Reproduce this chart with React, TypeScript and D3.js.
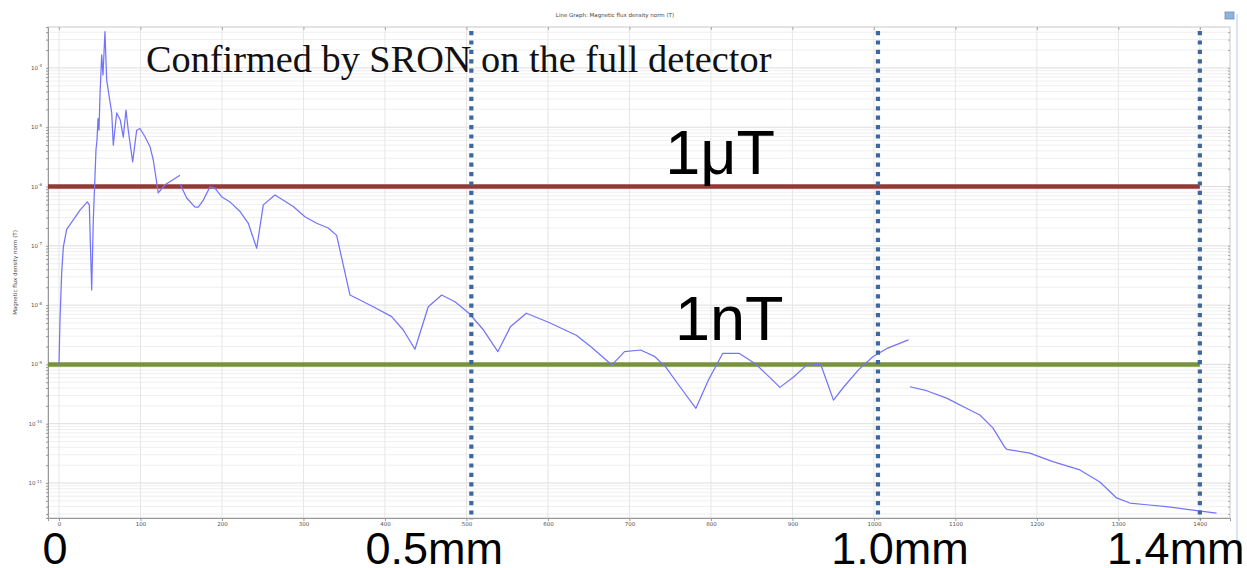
import { useEffect, useRef } from 'react'
import * as d3 from 'd3'

// field norm (T) along the detector (µm), three edges of the COMSOL line graph
const edgeNear: [number, number][] = [
  [0, 1.0e-9], [1.2, 5.6e-9], [3.3, 3.5e-8], [5.3, 9.5e-8], [9.4, 1.9e-7], [15.6, 2.5e-7],
  [25.8, 4.0e-7], [34.7, 5.5e-7], [37.2, 4.9e-7], [40.1, 1.8e-8], [42.1, 2.7e-7], [45.4, 4.2e-6],
  [46.6, 6.0e-6], [47.9, 1.4e-5], [49.1, 8.9e-6], [50.3, 3.5e-5], [52.4, 1.66e-4], [54.0, 7.6e-5],
  [56.4, 4.1e-4], [58.5, 6.3e-5], [61.7, 3.2e-5], [64.7, 1.74e-5], [66.6, 5.0e-6], [70.8, 1.74e-5],
  [75.2, 1.32e-5], [78.9, 6.8e-6], [82.2, 1.95e-5], [85.0, 8.9e-6], [90.4, 2.6e-6], [95.3, 8.9e-6],
  [99.4, 9.5e-6], [105.5, 6.9e-6], [111.7, 4.7e-6], [115.7, 2.8e-6], [121.8, 7.8e-7], [130.1, 1.07e-6],
  [148.5, 1.55e-6],
]

const edgeMiddle: [number, number][] = [
  [148.5, 1.1e-6], [156.7, 6.4e-7], [166.9, 4.5e-7], [170.9, 4.5e-7], [177.1, 5.9e-7], [185.3, 9.9e-7],
  [191.4, 9.4e-7], [199.6, 6.7e-7], [209.8, 5.5e-7], [222.1, 3.8e-7], [232.3, 2.4e-7], [242.6, 9.1e-8],
  [250.7, 4.9e-7], [265.0, 7.2e-7], [287.5, 4.6e-7], [301.8, 3.1e-7], [316.2, 2.4e-7], [330.4, 2.0e-7],
  [340.7, 1.5e-7], [357.1, 1.48e-8], [369.3, 1.22e-8], [385.6, 9.4e-9], [408.2, 6.4e-9], [422.5, 3.8e-9],
  [436.8, 1.8e-9], [453.1, 9.4e-9], [469.6, 1.48e-8], [485.9, 1.14e-8], [503.1, 7.3e-9], [521.0, 3.8e-9],
  [538.5, 1.64e-9], [553.9, 4.3e-9], [573.5, 7.3e-9], [599.9, 5.2e-9], [634.8, 3.1e-9], [652.4, 2.0e-9],
  [678.5, 9.8e-10], [694.0, 1.64e-9], [713.7, 1.75e-9], [731.3, 1.35e-9], [744.4, 9.1e-10], [762.0, 4.2e-10],
  [781.6, 1.82e-10], [797.1, 5.5e-10], [814.6, 1.54e-9], [834.4, 1.54e-9], [854.0, 1.04e-9], [869.3, 6.6e-10],
  [884.7, 4.1e-10], [901.8, 6.2e-10], [919.8, 1.04e-9], [935.0, 9.8e-10], [950.4, 2.5e-10], [963.2, 4.2e-10],
  [981.1, 8.1e-10], [998.7, 1.35e-9], [1016.0, 1.86e-9], [1042.5, 2.6e-9],
]

const edgeFar: [number, number][] = [
  [1044.2, 4.2e-10], [1064.7, 3.6e-10], [1089.2, 2.7e-10], [1117.8, 1.7e-10], [1130.1, 1.4e-10],
  [1146.0, 8.5e-11], [1160.7, 4.0e-11], [1163.2, 3.7e-11], [1191.4, 3.2e-11], [1219.6, 2.3e-11],
  [1252.8, 1.66e-11], [1277.3, 1.04e-11], [1297.8, 5.6e-12], [1314.1, 4.6e-12], [1334.6, 4.3e-12],
  [1359.1, 4.0e-12], [1391.4, 3.5e-12], [1420.5, 3.1e-12],
]

const xTicks = [0, 100, 200, 300, 400, 500, 600, 700, 800, 900, 1000, 1100, 1200, 1300, 1400]
const yDecades = [-11, -10, -9, -8, -7, -6, -5, -4]

const thresholdValues = [1e-6, 1e-9]
const thresholdLabels = ['1μT', '1nT']
const thresholdColors = ['#953735', '#77933c']

const markerPositions = [0, 506, 1005, 1400]
const markerLabels = ['0', '0.5mm', '1.0mm', '1.4mm']

export default function App() {
  const svgRef = useRef<SVGSVGElement>(null)
  const width = 1247
  const height = 568

  useEffect(() => {
    if (!svgRef.current) return
    const svg = d3.select(svgRef.current)
    svg.selectAll('*').remove()

    const left = 48, right = 1230, top = 27, bottom = 518
    const x = d3.scaleLinear().domain([-13.5, 1437]).range([left, right])
    const y = d3.scaleLog().domain([Math.pow(10, -11.59), Math.pow(10, -3.31)]).range([bottom, top])

    svg.append('rect').attr('width', width).attr('height', height).attr('fill', '#fff')

    const defs = svg.append('defs')
    defs.append('clipPath').attr('id', 'plot-clip')
      .append('rect').attr('x', left).attr('y', top).attr('width', right - left).attr('height', bottom - top)
    defs.append('filter').attr('id', 'soft').attr('x', '-5%').attr('y', '-200%').attr('width', '110%').attr('height', '500%')
      .append('feGaussianBlur').attr('stdDeviation', 1.6)

    // title
    svg.append('text')
      .attr('x', 615).attr('y', 17).attr('text-anchor', 'middle')
      .attr('font-family', 'DejaVu Sans').attr('font-size', '5.5px').attr('fill', '#444')
      .text('Line Graph: Magnetic flux density norm (T)')

    // grid
    const grid = svg.append('g')
    const minor: number[] = []
    for (let d = -12; d <= -3; d++) {
      for (let m = 1; m <= 9; m++) {
        const v = m * Math.pow(10, d)
        if (v >= y.domain()[0] && v <= y.domain()[1]) minor.push(v)
      }
    }
    grid.selectAll('line.h').data(minor).join('line')
      .attr('x1', left).attr('x2', right)
      .attr('y1', d => y(d)).attr('y2', d => y(d))
      .attr('stroke', d => (Math.abs(Math.log10(d) - Math.round(Math.log10(d))) < 1e-6 ? '#dddddd' : '#efefef'))
      .attr('stroke-width', 1)
    grid.selectAll('line.v').data(xTicks).join('line')
      .attr('x1', d => x(d)).attr('x2', d => x(d))
      .attr('y1', top).attr('y2', bottom)
      .attr('stroke', '#e6e6e6').attr('stroke-width', 1)

    // frame + axes
    svg.append('rect').attr('x', left).attr('y', top).attr('width', right - left).attr('height', bottom - top)
      .attr('fill', 'none').attr('stroke', '#c8c8c8')

    const axisColor = '#999'
    const xAxis = svg.append('g').attr('transform', `translate(0,${bottom})`)
      .call(d3.axisBottom(x).tickValues(xTicks).tickSize(3).tickFormat(d => `${d}`))
    xAxis.select('.domain').attr('stroke', axisColor)
    xAxis.selectAll('line').attr('stroke', axisColor)
    xAxis.selectAll('text').attr('fill', '#555').attr('font-size', '5.5px').attr('font-family', 'DejaVu Sans').attr('dy', '0.35em')

    const xTop = svg.append('g').attr('transform', `translate(0,${top})`)
      .call(d3.axisBottom(x).tickValues(xTicks).tickSize(3).tickFormat(() => ''))
    xTop.select('.domain').remove()
    xTop.selectAll('line').attr('stroke', '#aaa')

    const yAxis = svg.append('g').attr('transform', `translate(${left},0)`)
      .call(d3.axisLeft(y).tickValues(minor).tickSize(2).tickFormat(() => ''))
    yAxis.select('.domain').attr('stroke', axisColor)
    yAxis.selectAll('line').attr('stroke', axisColor)

    const yRight = svg.append('g').attr('transform', `translate(${right},0)`)
      .call(d3.axisLeft(y).tickValues(minor).tickSize(2).tickFormat(() => ''))
    yRight.select('.domain').remove()
    yRight.selectAll('line').attr('stroke', '#aaa')

    const yLab = svg.append('g')
    yDecades.forEach(k => {
      const t = yLab.append('text')
        .attr('x', 42).attr('y', y(Math.pow(10, k)) + 2)
        .attr('text-anchor', 'end').attr('font-family', 'DejaVu Sans').attr('font-size', '5.5px').attr('fill', '#555')
      t.append('tspan').text('10')
      t.append('tspan').attr('dy', -2.5).attr('font-size', '4px').text(`${k}`)
    })

    svg.append('text')
      .attr('transform', `translate(17,${(top + bottom) / 2}) rotate(-90)`)
      .attr('text-anchor', 'middle').attr('font-family', 'DejaVu Sans').attr('font-size', '5.5px').attr('fill', '#444')
      .text('Magnetic flux density norm (T)')

    // threshold lines with a soft shadow
    const xEnd = x(1400)
    thresholdValues.forEach((v, i) => {
      svg.append('line')
        .attr('x1', left).attr('x2', xEnd).attr('y1', y(v) + 3).attr('y2', y(v) + 3)
        .attr('stroke', '#888').attr('stroke-width', 4).attr('opacity', 0.45).attr('filter', 'url(#soft)')
      svg.append('line')
        .attr('x1', left).attr('x2', xEnd).attr('y1', y(v)).attr('y2', y(v))
        .attr('stroke', thresholdColors[i]).attr('stroke-width', 4.5)
    })

    // field curve
    const line = d3.line<[number, number]>().x(d => x(d[0])).y(d => y(d[1]))
    const curves = svg.append('g').attr('clip-path', 'url(#plot-clip)')
    ;[edgeNear, edgeMiddle, edgeFar].forEach(seg => {
      curves.append('path').datum(seg)
        .attr('fill', 'none').attr('stroke', '#7474fa').attr('stroke-width', 1.25)
        .attr('stroke-linejoin', 'round').attr('d', line)
    })

    // dotted position markers
    markerPositions.slice(1).forEach(p => {
      svg.append('line')
        .attr('x1', x(p)).attr('x2', x(p)).attr('y1', top + 4).attr('y2', bottom + 2)
        .attr('stroke', '#3d67a0').attr('stroke-width', 4.2).attr('stroke-dasharray', '4.2,5.2')
    })

    // annotations
    svg.append('text')
      .attr('x', 146).attr('y', 72)
      .attr('font-family', 'Liberation Serif, serif').attr('font-size', '38.3px').attr('fill', '#111')
      .text('Confirmed by SRON on the full detector')

    // label anchors along the detector and their lift above each line
    const labelAt = [744, 756]
    const labelLift = [13, 24]
    thresholdValues.forEach((v, i) => {
      svg.append('text')
        .attr('x', x(labelAt[i])).attr('y', y(v) - labelLift[i])
        .attr('font-family', 'Liberation Sans, Arial, sans-serif').attr('font-size', '63px').attr('fill', '#000')
        .text(thresholdLabels[i])
    })

    const markerShift = [-4, -37, 22, -24]
    markerPositions.forEach((p, i) => {
      svg.append('text')
        .attr('x', x(p) + markerShift[i]).attr('y', 564)
        .attr('text-anchor', 'middle')
        .attr('font-family', 'Liberation Sans, Arial, sans-serif').attr('font-size', '45px').attr('fill', '#000')
        .text(markerLabels[i])
    })

    // window edge
    svg.append('line').attr('x1', 1237).attr('x2', 1237).attr('y1', 14).attr('y2', 540)
      .attr('stroke', '#cfdcf2').attr('stroke-width', 1.5)
    svg.append('rect').attr('x', 1225).attr('y', 12).attr('width', 9).attr('height', 7)
      .attr('fill', '#8fb4d9').attr('stroke', '#6b8fb8').attr('stroke-width', 0.8)
  }, [])

  return (
    <svg ref={svgRef} width={width} height={height} style={{ position: 'absolute', left: 0, top: 0 }} />
  )
}
